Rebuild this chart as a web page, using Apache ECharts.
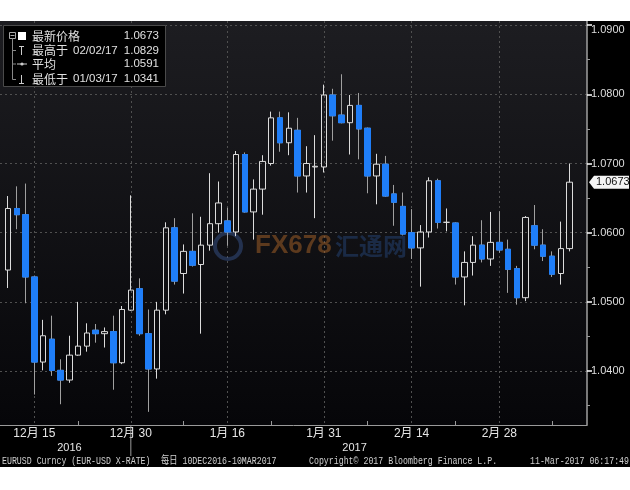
<!DOCTYPE html>
<html><head><meta charset="utf-8">
<script src="https://cdn.jsdelivr.net/npm/echarts@6/dist/echarts.min.js"></script>
<style>html,body{margin:0;padding:0;background:#fff}#c{width:630px;height:490px}</style>
</head><body><div id="c"></div>
<script>
// ---- data ----
const dates = [
 '2016-12-12','2016-12-13','2016-12-14','2016-12-15','2016-12-16',
 '2016-12-19','2016-12-20','2016-12-21','2016-12-22','2016-12-23',
 '2016-12-26','2016-12-27','2016-12-28','2016-12-29','2016-12-30',
 '2017-01-02','2017-01-03','2017-01-04','2017-01-05','2017-01-06',
 '2017-01-09','2017-01-10','2017-01-11','2017-01-12','2017-01-13',
 '2017-01-16','2017-01-17','2017-01-18','2017-01-19','2017-01-20',
 '2017-01-23','2017-01-24','2017-01-25','2017-01-26','2017-01-27',
 '2017-01-30','2017-01-31','2017-02-01','2017-02-02','2017-02-03',
 '2017-02-06','2017-02-07','2017-02-08','2017-02-09','2017-02-10',
 '2017-02-13','2017-02-14','2017-02-15','2017-02-16','2017-02-17',
 '2017-02-20','2017-02-21','2017-02-22','2017-02-23','2017-02-24',
 '2017-02-27','2017-02-28','2017-03-01','2017-03-02','2017-03-03',
 '2017-03-06','2017-03-07','2017-03-08','2017-03-09','2017-03-10'
];
const open = [
 1.0546,1.0635,1.0626,1.0536,1.0413, 1.0446,1.0401,1.0387,1.0423,1.0436,
 1.0459,1.0454,1.0457,1.0412,1.0488, 1.0519,1.0454,1.0403,1.0488,1.0607,
 1.0541,1.0573,1.0554,1.0582,1.0613, 1.0617,1.0601,1.0713,1.0630,1.0663,
 1.0700,1.0766,1.0730,1.0748,1.0682, 1.0695,1.0695,1.0799,1.0770,1.0759,
 1.0784,1.0751,1.0682,1.0699,1.0656, 1.0638,1.0600,1.0578,1.0601,1.0675,
 1.0615,1.0614,1.0536,1.0557,1.0582, 1.0562,1.0586,1.0576,1.0548,1.0506,
 1.0610,1.0582,1.0566,1.0541,1.0577
];
const close = [
 1.0635,1.0626,1.0536,1.0413,1.0451, 1.0401,1.0387,1.0423,1.0436,1.0455,
 1.0454,1.0457,1.0412,1.0489,1.0517, 1.0454,1.0403,1.0488,1.0607,1.0530,
 1.0573,1.0553,1.0582,1.0613,1.0643, 1.0601,1.0713,1.0630,1.0663,1.0703,
 1.0766,1.0730,1.0751,1.0682,1.0700, 1.0696,1.0799,1.0769,1.0759,1.0784,
 1.0750,1.0682,1.0699,1.0653,1.0644, 1.0598,1.0578,1.0601,1.0675,1.0615,
 1.0615,1.0536,1.0557,1.0582,1.0562, 1.0586,1.0575,1.0547,1.0506,1.0622,
 1.0582,1.0566,1.0540,1.0577,1.0673
];
const low = [
 1.0520,1.0605,1.0498,1.0366,1.0401, 1.0393,1.0352,1.0383,1.0422,1.0428,
 1.0441,1.0434,1.0373,1.0410,1.0487, 1.0451,1.0341,1.0389,1.0482,1.0525,
 1.0512,1.0551,1.0454,1.0574,1.0600, 1.0581,1.0595,1.0629,1.0590,1.0626,
 1.0697,1.0717,1.0712,1.0658,1.0658, 1.0621,1.0687,1.0733,1.0758,1.0713,
 1.0706,1.0657,1.0641,1.0652,1.0610, 1.0596,1.0562,1.0522,1.0593,1.0606,
 1.0602,1.0525,1.0495,1.0538,1.0557, 1.0552,1.0571,1.0513,1.0496,1.0501,
 1.0576,1.0559,1.0536,1.0525,1.0573
];
const high = [
 1.0653,1.0667,1.0671,1.0538,1.0474, 1.0480,1.0417,1.0451,1.0500,1.0469,
 1.0468,1.0463,1.0480,1.0494,1.0654, 1.0534,1.0489,1.0500,1.0615,1.0621,
 1.0583,1.0628,1.0623,1.0686,1.0674, 1.0636,1.0718,1.0716,1.0677,1.0712,
 1.0775,1.0775,1.0774,1.0766,1.0725, 1.0741,1.0814,1.0808,1.0829,1.0799,
 1.0802,1.0752,1.0714,1.0711,1.0669, 1.0658,1.0634,1.0611,1.0680,1.0678,
 1.0635,1.0615,1.0573,1.0595,1.0618, 1.0630,1.0631,1.0590,1.0552,1.0624,
 1.0640,1.0605,1.0573,1.0616,1.0700
];
const yTickValues = [1.04,1.05,1.06,1.07,1.08,1.09];
const yMinorTickValues = [1.035,1.045,1.055,1.065,1.075,1.085];
const xLabelDates = ['2016-12-15','2016-12-30','2017-01-16','2017-01-31','2017-02-14','2017-02-28'];
const xMinorDates = ['2016-12-22','2017-01-09','2017-01-23','2017-02-07','2017-02-21','2017-03-08'];
const lastPrice = '1.0673';
const legendRows = [
  {label:'最新价格', date:'', value:'1.0673'},
  {label:'最高于', date:'02/02/17', value:'1.0829'},
  {label:'平均', date:'', value:'1.0591'},
  {label:'最低于', date:'01/03/17', value:'1.0341'}
];
const footerLeft = 'EURUSD Curncy (EUR-USD X-RATE)';
const footerRange = '每日 10DEC2016-10MAR2017';
const footerCopy = 'Copyright© 2017 Bloomberg Finance L.P.';
const footerTime = '11-Mar-2017 06:17:49';

// ---- derived ----
const candles = dates.map((d,i)=>[i, open[i], close[i], low[i], high[i]]);
const downBodies = dates.map((d,i)=>i).filter(i=>close[i]<open[i]).map(i=>[i, open[i], close[i], close[i], open[i]]);
const majorIdx = xLabelDates.map(d=>dates.indexOf(d));
const minorIdx = xMinorDates.map(d=>dates.indexOf(d));
const years = [...new Set(dates.map(d=>d.slice(0,4)))];
const yearCenters = years.map(y=>{const ix=dates.map((d,i)=>d.startsWith(y)?i:-1).filter(i=>i>=0);return (ix[0]+ix[ix.length-1])/2;});
const lastIdxFirstYear = dates.map((d,i)=>d.startsWith(years[0])?i:-1).filter(i=>i>=0).pop();
const fmtDate = d => parseInt(d.slice(5,7),10)+'月 '+parseInt(d.slice(8,10),10);
const yMaxTick = Math.max.apply(null, yTickValues);

const BLUE = '#1f7ef8';
const GRID_LINE = {color:'#505050', type:[2,3], width:1};
const X_MIN = -0.912, X_MAX = 65.99;
const Y_MIN = 1.0322, Y_MAX = 1.0906;
const SANS = 'Liberation Sans, Noto Sans CJK SC, sans-serif';
const MONO = 'Liberation Mono, Noto Sans CJK SC, monospace';

const chart = echarts.init(document.getElementById('c'), null, {renderer:'canvas'});
const option = {
  animation:false,
  backgroundColor:'#000',
  grid:{left:0, top:21, width:587, height:404, show:true, borderWidth:0,
    backgroundColor:{type:'linear',x:0,y:0,x2:0,y2:1,colorStops:[{offset:0,color:'#1d1d21'},{offset:1,color:'#060609'}]}},
  xAxis:[
    {type:'value', min:X_MIN, max:X_MAX, position:'bottom',
     axisLine:{show:true, onZero:false, lineStyle:{color:'#9a9a9a',width:1}},
     axisTick:{show:false, customValues:majorIdx},
     axisLabel:{customValues:majorIdx, formatter:v=>fmtDate(dates[Math.round(v)]), color:'#e6e6e6', fontSize:12, fontFamily:SANS, margin:3},
     splitLine:{show:true, lineStyle:GRID_LINE}},
    {type:'value', min:X_MIN, max:X_MAX, position:'bottom',
     axisLine:{show:false, onZero:false},
     axisTick:{show:true, inside:true, length:4, customValues:minorIdx, lineStyle:{color:'#9a9a9a'}},
     axisLabel:{customValues:yearCenters, formatter:v=>years[yearCenters.indexOf(v)], color:'#e6e6e6', fontSize:11, fontFamily:SANS, margin:17},
     splitLine:{show:false}}
  ],
  yAxis:[
    {type:'value', min:Y_MIN, max:Y_MAX, position:'right',
     axisLine:{show:true, onZero:false, lineStyle:{color:'#a0a0a0',width:1.5}},
     axisTick:{show:true, length:5, customValues:yTickValues, lineStyle:{color:'#ffffff',width:1.5}},
     axisLabel:{customValues:yTickValues,
       formatter:v=> Math.abs(v-yMaxTick)<1e-9 ? '{top|'+v.toFixed(4)+'}' : v.toFixed(4),
       rich:{top:{padding:[9,0,0,0], color:'#dedede', fontSize:11, fontFamily:SANS}},
       color:'#dedede', fontSize:11, fontFamily:SANS, margin:4},
     splitLine:{show:true, lineStyle:GRID_LINE}},
    {type:'value', min:Y_MIN, max:Y_MAX, position:'right',
     axisLine:{show:false, onZero:false},
     axisTick:{show:true, length:3, customValues:yMinorTickValues, lineStyle:{color:'#9a9a9a'}},
     axisLabel:{show:false}, splitLine:{show:false}}
  ],
  series:[
    {type:'candlestick', xAxisIndex:0, yAxisIndex:0, data:candles, barWidth:6,
     itemStyle:{color:'transparent', color0:BLUE, borderColor:'#dcdcdc', borderColor0:'#a0a0a0', borderWidth:1}},
    {type:'candlestick', xAxisIndex:0, yAxisIndex:0, data:downBodies, barWidth:6,
     itemStyle:{color:BLUE, color0:BLUE, borderColor:BLUE, borderColor0:BLUE, borderWidth:1}}
  ]
};
chart.setOption(option);

// ---- decorations positioned via axes ----
const priceY = chart.convertToPixel({yAxisIndex:0}, parseFloat(lastPrice));
const sepX = chart.convertToPixel({xAxisIndex:0}, lastIdxFirstYear);
const legendY = [36, 50.5, 64, 79];
const g = [
  {type:'rect', shape:{x:0,y:0,width:630,height:21}, style:{fill:'#fff'}, z:100},
  {type:'rect', shape:{x:0,y:467,width:630,height:23}, style:{fill:'#fff'}, z:100},
  // watermark
  {type:'circle', shape:{cx:228, cy:246, r:13}, style:{fill:'none', stroke:'rgba(60,90,150,0.45)', lineWidth:4}, z:1},
  {type:'text', x:255, y:246, style:{text:'FX678', font:'bold 26px '+SANS, fill:'rgba(170,100,40,0.5)', textVerticalAlign:'middle'}, z:1},
  {type:'text', x:335, y:246, style:{text:'汇通网', font:'bold 24px Noto Sans CJK SC', fill:'rgba(40,75,130,0.45)', textVerticalAlign:'middle'}, z:1},
  // legend box
  {type:'rect', shape:{x:3.5,y:25.5,width:162,height:61}, style:{fill:'#000', stroke:'#4a4a4a', lineWidth:1}, z:50},
  {type:'rect', shape:{x:9.5,y:32.5,width:6,height:6}, style:{fill:'none', stroke:'#aaa', lineWidth:1}, z:51},
  {type:'line', shape:{x1:10.5,y1:35.5,x2:14.5,y2:35.5}, style:{stroke:'#aaa'}, z:51},
  {type:'rect', shape:{x:18,y:32,width:8,height:8}, style:{fill:'#fff'}, z:51},
  {type:'line', shape:{x1:12.5,y1:38.5,x2:12.5,y2:79.5}, style:{stroke:'#888'}, z:51},
  {type:'line', shape:{x1:12.5,y1:50.5,x2:16,y2:50.5}, style:{stroke:'#888'}, z:51},
  {type:'line', shape:{x1:12.5,y1:64,x2:16,y2:64}, style:{stroke:'#888'}, z:51},
  {type:'line', shape:{x1:12.5,y1:79.5,x2:16,y2:79.5}, style:{stroke:'#888'}, z:51},
  // high symbol
  {type:'line', shape:{x1:21.5,y1:46,x2:21.5,y2:55}, style:{stroke:'#ccc'}, z:51},
  {type:'line', shape:{x1:19,y1:46.5,x2:24,y2:46.5}, style:{stroke:'#ccc'}, z:51},
  // avg symbol
  {type:'line', shape:{x1:17,y1:64,x2:27,y2:64}, style:{stroke:'#ccc'}, z:51},
  {type:'circle', shape:{cx:22,cy:64,r:1.6}, style:{fill:'#ccc'}, z:51},
  // low symbol
  {type:'line', shape:{x1:21.5,y1:75,x2:21.5,y2:83}, style:{stroke:'#ccc'}, z:51},
  {type:'line', shape:{x1:19,y1:83.5,x2:24,y2:83.5}, style:{stroke:'#ccc'}, z:51},
  // year separator
  {type:'line', shape:{x1:sepX, y1:425, x2:sepX, y2:456}, style:{stroke:'#9a9a9a'}, z:5},
  // last price box
  {type:'polygon', shape:{points:[[589,priceY],[594,priceY-6.5],[629,priceY-6.5],[629,priceY+6.5],[594,priceY+6.5]]}, style:{fill:'#f4f4f4'}, z:20},
  {type:'text', x:596, y:priceY, style:{text:lastPrice, font:'11px '+SANS, fill:'#111', textVerticalAlign:'middle'}, z:21},
  // footer
  {type:'text', x:2, y:461, scaleX:0.75, style:{text:footerLeft, font:'11px '+MONO, fill:'#d0d0d0', textVerticalAlign:'middle'}, z:5},
  {type:'text', x:161, y:461, scaleX:0.75, style:{text:footerRange, font:'11px '+MONO, fill:'#d0d0d0', textVerticalAlign:'middle'}, z:5},
  {type:'text', x:309, y:461, scaleX:0.75, style:{text:footerCopy, font:'11px '+MONO, fill:'#d0d0d0', textVerticalAlign:'middle'}, z:5},
  {type:'text', x:629, y:461, scaleX:0.75, style:{text:footerTime, font:'11px '+MONO, fill:'#d0d0d0', textVerticalAlign:'middle', textAlign:'right'}, z:5}
];
legendRows.forEach((r,i)=>{
  g.push({type:'text', x:32, y:legendY[i], style:{text:r.label, font:'12px Noto Sans CJK SC', fill:'#e0e0e0', textVerticalAlign:'middle'}, z:52});
  if (r.date) g.push({type:'text', x:73, y:legendY[i], style:{text:r.date, font:'11.5px '+SANS, fill:'#e0e0e0', textVerticalAlign:'middle'}, z:52});
  g.push({type:'text', x:159, y:legendY[i], style:{text:r.value, font:'11.5px '+SANS, fill:'#e0e0e0', textVerticalAlign:'middle', textAlign:'right'}, z:52});
});
chart.setOption({graphic:g});
</script></body></html>
